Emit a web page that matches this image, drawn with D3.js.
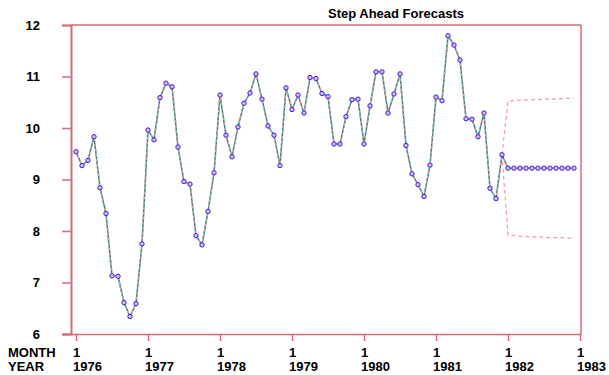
<!DOCTYPE html>
<html>
<head>
<meta charset="utf-8">
<script src="https://cdn.jsdelivr.net/npm/d3@7"></script>
<style>
  body { margin: 0; background: #fff; }
  svg { display: block; }
  text { font-family: "Liberation Sans", Arial, sans-serif; font-weight: bold; fill: #000; }
</style>
</head>
<body>
<svg width="609" height="375"></svg>
<script>
// observed series, Jan 1976 .. Dec 1981
var actual = [
  9.54, 9.27, 9.37, 9.83, 8.84, 8.34, 7.13, 7.12, 6.61, 6.34, 6.59, 7.75,
  9.96, 9.77, 10.59, 10.87, 10.80, 9.63, 8.96, 8.91, 7.91, 7.73, 8.38, 9.13,
  10.64, 9.86, 9.44, 10.02, 10.48, 10.68, 11.05, 10.56, 10.04, 9.86, 9.27, 10.78,
  10.36, 10.64, 10.29, 10.98, 10.96, 10.67, 10.61, 9.69, 9.69, 10.22, 10.55, 10.56,
  9.69, 10.43, 11.09, 11.09, 10.29, 10.66, 11.05, 9.66, 9.11, 8.90, 8.67, 9.28,
  10.60, 10.53, 11.79, 11.61, 11.32, 10.18, 10.17, 9.83, 10.29, 8.83, 8.63, 9.48
];
// forecasts Jan 1982 .. Dec 1982
var forecast = [9.22, 9.22, 9.22, 9.22, 9.22, 9.22, 9.22, 9.22, 9.22, 9.22, 9.22, 9.22];
var upper = [10.52, 10.53, 10.54, 10.54, 10.55, 10.55, 10.56, 10.56, 10.56, 10.57, 10.58, 10.58];
var lower = [7.92, 7.91, 7.90, 7.89, 7.89, 7.88, 7.88, 7.87, 7.87, 7.87, 7.86, 7.86];
var yTicks = [6, 7, 8, 9, 10, 11, 12];
var years = [1976, 1977, 1978, 1979, 1980, 1981, 1982, 1983];

var frameColor = "#d76a77",
	lineColor = "#2f8a86",
	dashColor = "#f79aa2",
	pointColor = "#2424ff";

var svg = d3.select("svg");

var x = d3.scaleLinear().domain([0, 84]).range([76, 580]);
var y = d3.scaleLinear().domain([6, 12]).range([334, 25]);

// frame
svg.append("line")
	.attr("x1", 71).attr("x2", 581).attr("y1", 25).attr("y2", 25)
	.attr("stroke", frameColor).attr("stroke-width", 1.5);
svg.append("line")
	.attr("x1", 581).attr("x2", 581).attr("y1", 25).attr("y2", 334)
	.attr("stroke", frameColor).attr("stroke-width", 1.5);

// y axis
var yAxis = svg.append("g")
	.attr("transform", "translate(71,0)")
	.call(d3.axisLeft(y).tickValues(yTicks).tickSize(9).tickPadding(22).tickFormat(d3.format("d")));
yAxis.select(".domain").attr("stroke", frameColor).attr("stroke-width", 2);
yAxis.selectAll(".tick line").attr("stroke", frameColor).attr("stroke-width", 1.5);
yAxis.selectAll(".tick text")
	.attr("font-size", 13).attr("font-family", null).attr("fill", "#000");

// x axis
var tickX = d3.range(0, 85, 12);
var xAxis = svg.append("g")
	.attr("transform", "translate(0,334)")
	.call(d3.axisBottom(x).tickValues(tickX).tickSize(7).tickSizeOuter(0).tickFormat(""));
xAxis.select(".domain").attr("d", "M62.5,0.5H581.5").attr("stroke", frameColor).attr("stroke-width", 1.5);
xAxis.selectAll(".tick line").attr("stroke", frameColor).attr("stroke-width", 1.5);

svg.selectAll(".mlab").data(tickX).enter().append("text")
	.attr("class", "mlab")
	.attr("x", function(d) { return x(d) - 3; })
	.attr("y", 357)
	.attr("font-size", 13)
	.text("1");
svg.selectAll(".ylab").data(years).enter().append("text")
	.attr("class", "ylab")
	.attr("x", function(d, i) { return x(tickX[i]) - 3; })
	.attr("y", 371)
	.attr("font-size", 13)
	.text(function(d) { return d; });
svg.append("text").attr("x", 8).attr("y", 357).attr("font-size", 13).text("MONTH");
svg.append("text").attr("x", 8).attr("y", 371).attr("font-size", 13).text("YEAR");

// title
svg.append("text")
	.attr("x", 396).attr("y", 18)
	.attr("text-anchor", "middle")
	.attr("font-size", 13)
	.text("Step Ahead Forecasts");

// series as points
var obs = actual.map(function(v, i) { return { i: i, v: v }; });
var fc = forecast.map(function(v, i) { return { i: 72 + i, v: v }; });
var last = obs[obs.length - 1];
var up = [last].concat(upper.map(function(v, i) { return { i: 72 + i, v: v }; }));
var lo = [last].concat(lower.map(function(v, i) { return { i: 72 + i, v: v }; }));

var line = d3.line()
	.x(function(d) { return x(d.i); })
	.y(function(d) { return y(d.v); });

// confidence band
[up, lo].forEach(function(b) {
	svg.append("path")
		.attr("d", line(b))
		.attr("fill", "none")
		.attr("stroke", dashColor)
		.attr("stroke-width", 1.2)
		.attr("stroke-dasharray", "4,3");
});

var all = obs.concat(fc);
svg.append("path")
	.attr("d", line(all))
	.attr("fill", "none")
	.attr("stroke", lineColor)
	.attr("stroke-width", 1.5);
svg.append("path")
	.attr("d", line(all))
	.attr("fill", "none")
	.attr("stroke", dashColor)
	.attr("stroke-width", 1.5)
	.attr("stroke-dasharray", "2,3");

svg.selectAll(".pt").data(all).enter().append("circle")
	.attr("class", "pt")
	.attr("cx", function(d) { return x(d.i); })
	.attr("cy", function(d) { return y(d.v); })
	.attr("r", 2.2)
	.attr("fill", "#f3b0c8")
	.attr("stroke", pointColor)
	.attr("stroke-width", 1);
</script>
</body>
</html>
